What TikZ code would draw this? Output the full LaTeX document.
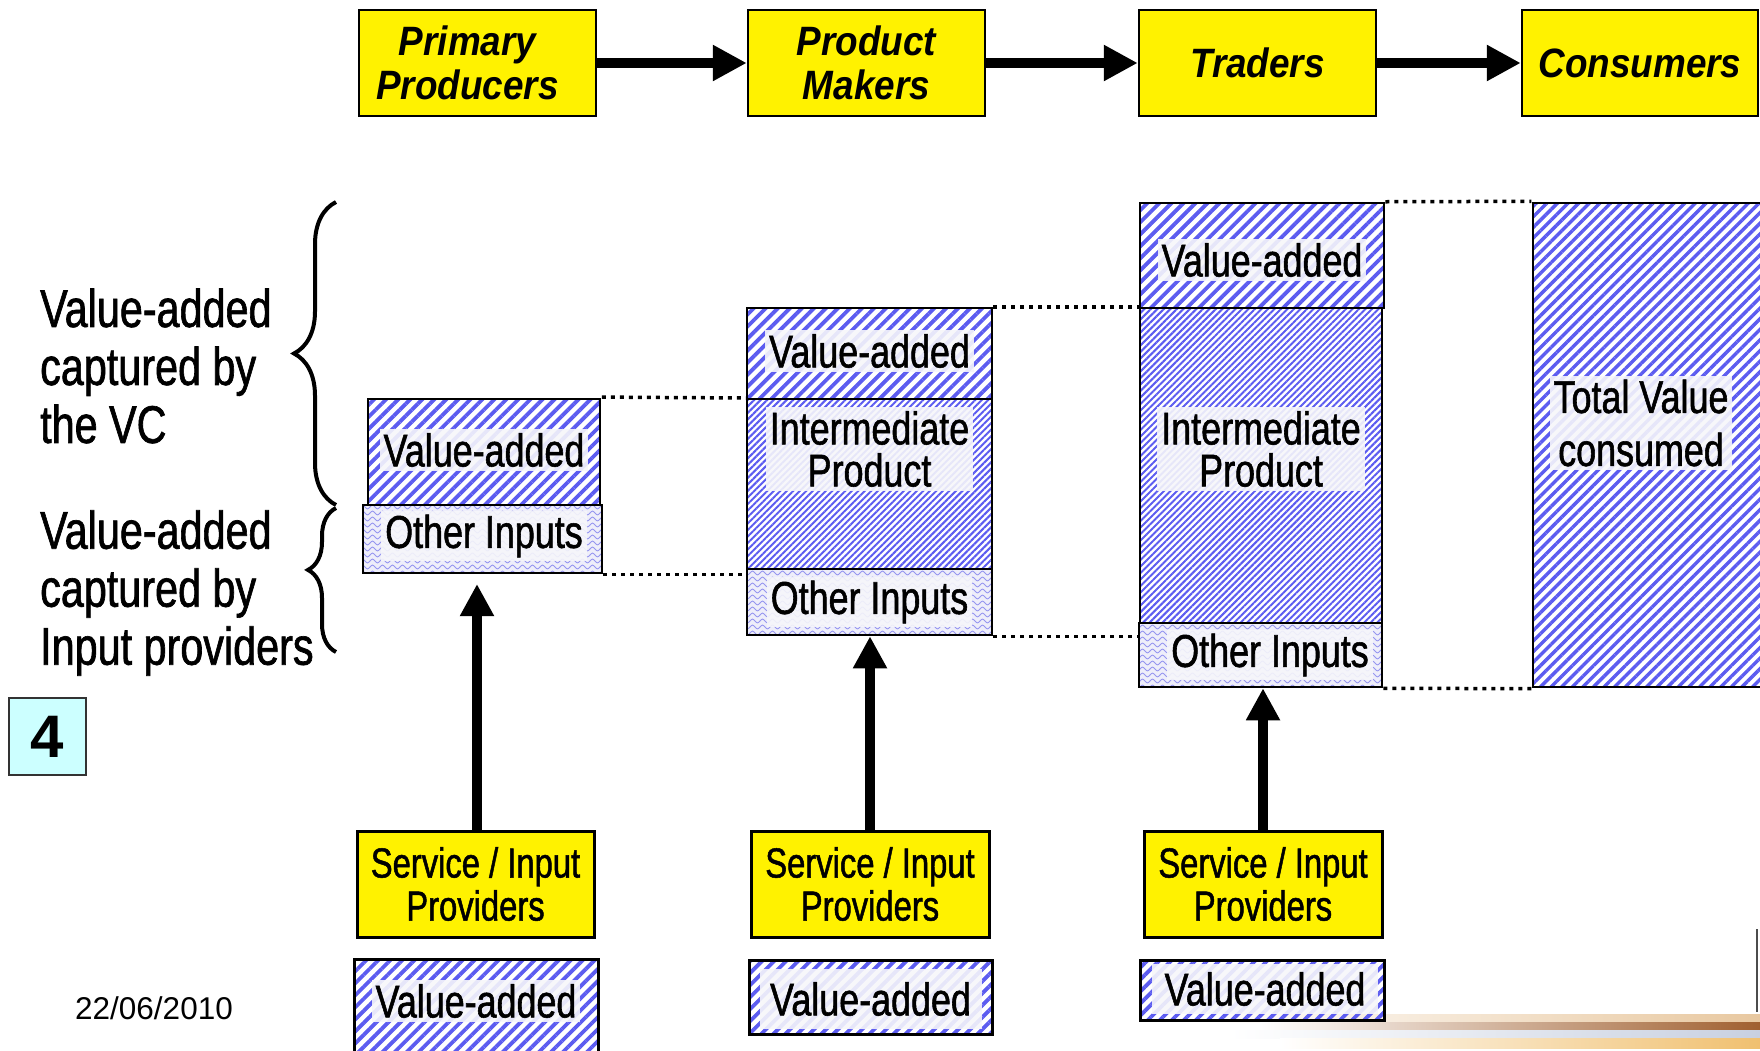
\documentclass[tikz,border=0pt]{standalone}
\usepackage{fontspec}
\setmainfont{Liberation Sans}
\newfontfamily\narrowfont[FakeStretch=0.78,FakeBold=1.2]{Liberation Sans}
\newfontfamily\headfont[FakeStretch=0.9]{Liberation Sans}
\usetikzlibrary{arrows.meta,patterns,patterns.meta,decorations.pathreplacing}

\definecolor{stripe}{RGB}{92,92,240}
\definecolor{txtbg}{RGB}{246,246,250}
\definecolor{oifill}{RGB}{238,238,250}
\definecolor{wave}{RGB}{150,150,240}
\definecolor{tagfill}{RGB}{204,255,255}
\definecolor{streakA}{RGB}{232,200,160}
\definecolor{streakB}{RGB}{160,96,48}
\definecolor{streakC}{RGB}{200,208,224}
\definecolor{streakD}{RGB}{240,192,112}

% light wavy texture for the "other inputs" bands
\pgfdeclarepatternformonly{oiwaves}{\pgfqpoint{-1pt}{-1pt}}{\pgfqpoint{11pt}{7pt}}{\pgfqpoint{10pt}{6pt}}{%
  \pgfsetlinewidth{0.9pt}%
  \pgfpathmoveto{\pgfqpoint{0pt}{3pt}}%
  \pgfpathcurveto{\pgfqpoint{2.5pt}{5.5pt}}{\pgfqpoint{2.5pt}{5.5pt}}{\pgfqpoint{5pt}{3pt}}%
  \pgfpathcurveto{\pgfqpoint{7.5pt}{0.5pt}}{\pgfqpoint{7.5pt}{0.5pt}}{\pgfqpoint{10pt}{3pt}}%
  \pgfusepath{stroke}}

\tikzset{
  flowbox/.style={draw=black, line width=2.5pt, fill=yellow, minimum width=237pt,
    minimum height=106pt, inner sep=0pt, align=center,
    font=\headfont\fontsize{41}{44}\selectfont\bfseries\itshape},
  provbox/.style={draw=black, line width=3pt, fill=yellow, minimum width=238pt,
    minimum height=106pt, inner sep=0pt, align=center,
    font=\narrowfont\fontsize{42}{43}\selectfont},
  vabox/.style={draw=black, line width=2.5pt, inner sep=0pt,
    pattern={Lines[angle=45,distance=8.5pt,line width=3.8pt]}, pattern color=stripe},
  ipbox/.style={draw=black, line width=2.5pt, inner sep=0pt,
    pattern={Lines[angle=45,distance=4.6pt,line width=2pt]}, pattern color=stripe},
  oibox/.style={draw=black, line width=2.5pt, inner sep=0pt,
    preaction={fill=oifill}, pattern=oiwaves, pattern color=wave},
  boxtext/.style={fill=txtbg, fill opacity=0.9, text opacity=1, inner sep=4pt,
    align=center, font=\narrowfont\fontsize{46}{42}\selectfont},
  sidetext/.style={align=left, anchor=west, inner sep=0pt,
    font=\narrowfont\fontsize{53}{58}\selectfont},
  flowarrow/.style={line width=10pt, -{Triangle[length=34pt,width=34pt]}},
  uparrow/.style={line width=10pt, -{Triangle[length=32pt,width=32pt]}},
  link/.style={line width=3.5pt, dash pattern=on 4pt off 5pt},
  bracestyle/.style={line width=4pt, decorate},
}

\begin{document}
\begin{tikzpicture}[x=1pt,y=-1pt]
\useasboundingbox (0,0) rectangle (1760,1050);

% decorative streaks in the corner, behind everything else
\shade[left color=white, right color=streakA] (1200,1014) rectangle (1760,1022);
\shade[left color=white, right color=streakB] (1260,1022) rectangle (1760,1030);
\shade[left color=white, right color=streakC] (1230,1030) rectangle (1760,1038);
\shade[left color=white, right color=streakD] (1280,1038) rectangle (1760,1048);
\draw[line width=2pt, black!70] (1757,929) -- (1757,1012);

% chain of actors
\node[flowbox] (pp) at (477.5,63) {\hspace*{-20pt}Primary\\\hspace*{-20pt}Producers};
\node[flowbox] (pm) at (866.5,63) {Product\\Makers};
\node[flowbox] (tr) at (1257.5,63) {Traders};
\node[flowbox, minimum width=236pt] (co) at (1640,63) {Consumers};
\draw[flowarrow] (pp) -- (pm);
\draw[flowarrow] (pm) -- (tr);
\draw[flowarrow] (tr) -- (co);

% primary producers column
\node[vabox, minimum width=232pt, minimum height=106pt] (lva) at (484,452) {};
\node[oibox, minimum width=239pt, minimum height=68pt] (lo) at (482.5,539) {};
\node[boxtext] (lvat) at (484,450) {Value-added};
\node[boxtext] (lot) at (484,536) {Other Inputs};

% product makers column
\node[vabox, minimum width=245pt, minimum height=91pt] (mva) at (869.5,353.5) {};
\node[ipbox, minimum width=245pt, minimum height=170pt] (mip) at (869.5,484) {};
\node[oibox, minimum width=245pt, minimum height=66pt] (mo) at (869.5,602) {};
\node[boxtext] (mvat) at (869.5,351) {Value-added};
\node[boxtext] (mipt) at (869.5,449) {Intermediate\\Product};
\node[boxtext] (mot) at (869.5,602) {Other Inputs};

% traders column
\node[vabox, minimum width=244pt, minimum height=105pt] (tva) at (1262,255.5) {};
\node[ipbox, minimum width=242pt, minimum height=315pt] (tip) at (1261,465.5) {};
\node[oibox, minimum width=243pt, minimum height=64pt] (to) at (1260.5,655) {};
\node[boxtext] (tvat) at (1262,260) {Value-added};
\node[boxtext] (tipt) at (1261,449) {Intermediate\\Product};
\node[boxtext] (tot) at (1270,655) {Other Inputs};

% consumers column
\node[vabox, pattern={Lines[angle=45,distance=7.5pt,line width=3.4pt]},
  minimum width=229pt, minimum height=484pt] (cons) at (1647.5,445) {};
\node[boxtext, font=\narrowfont\fontsize{46}{53}\selectfont] (const) at (1641,423) {Total Value\\consumed};

% dotted links between columns
\draw[link] (lva.north east) -- (mip.north west);
\draw[link] (lo.south east) -- (lo.south east -| mo.west);
\draw[link] (mva.north east) -- (tip.north west);
\draw[link] (mo.south east) -- (mo.south east -| to.west);
\draw[link] (tva.north east) -- (cons.north west);
\draw[link] (to.south east) -- (cons.south west);

% service / input providers
\node[provbox, minimum width=237pt] (ls) at (475.5,884) {Service / Input\\Providers};
\node[provbox] (ms) at (870,884) {Service / Input\\Providers};
\node[provbox] (rs) at (1263,884) {Service / Input\\Providers};
\coordinate (ltip) at (477,584);
\draw[uparrow] (ls.north -| ltip) -- (ltip);
\draw[uparrow] (ms.north) -- (ms.north |- mo.south);
\draw[uparrow] (rs.north) -- (rs.north |- to.south);

% value added by the providers
\node[vabox, line width=3pt, minimum width=244pt, minimum height=101pt] (lb) at (476,1009.5) {};
\node[vabox, line width=3pt, minimum width=243pt, minimum height=74pt] (mb) at (870.5,997) {};
\node[vabox, line width=3pt, minimum width=244pt, minimum height=60pt] (rb) at (1262,990) {};
\node[boxtext] (lbt) at (476,1001) {Value-added};
\node[boxtext, minimum width=222pt, minimum height=60pt] (mbt) at (870.5,999) {Value-added};
\node[boxtext, minimum width=226pt, minimum height=50pt] (rbt) at (1265,989) {Value-added};

% braces and their captions
\draw[bracestyle, decoration={brace, amplitude=42pt}] (336,505) -- (336,202);
\draw[bracestyle, decoration={brace, amplitude=28pt, aspect=0.57}] (336,652) -- (336,508);
\node[sidetext] (vcl) at (40,366) {Value-added\\captured by\\the VC};
\node[sidetext] (ipl) at (40,593) {Value-added\\captured by\\Input providers};

% slide number and date
\node[draw=black!80, line width=2pt, fill=tagfill, minimum width=77pt, minimum height=77pt,
  inner sep=0pt, font=\fontsize{60}{60}\selectfont\bfseries] (num) at (47.5,736.5) {4};
\node[font=\fontsize{31.5}{36}\selectfont] (date) at (154,1008) {22/06/2010};
\end{tikzpicture}
\end{document}
